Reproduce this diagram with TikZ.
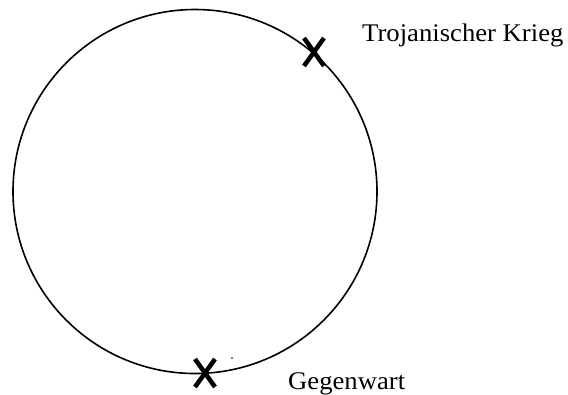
\documentclass[tikz,border=0pt]{standalone}
\usepackage{fontspec}
\setmainfont[FakeStretch=1.05]{Liberation Serif}
\usetikzlibrary{calc}
\tikzset{
  ring/.style={line width=1.6bp},
  crossmark/.style={line width=4.5bp},
  lbl/.style={anchor=base west, inner sep=0pt, font=\fontsize{25.5}{28}\selectfont}
}
\begin{document}
\begin{tikzpicture}[x=1bp,y=-1bp]
\useasboundingbox (0,0) rectangle (568,394);
\coordinate (c) at (195,191.5);
\draw[ring] (c) circle[radius=182bp];
\coordinate (troy) at (314,52);
\coordinate (now) at (205,373);
\draw[crossmark] ($(troy)+(-10,-14)$) -- ($(troy)+(10,14)$);
\draw[crossmark] ($(troy)+(10,-14)$) -- ($(troy)+(-10,14)$);
\draw[crossmark] ($(now)+(-10,-14)$) -- ($(now)+(10,14)$);
\draw[crossmark] ($(now)+(10,-14)$) -- ($(now)+(-10,14)$);
\fill (232,358) circle[radius=0.8bp];
\node[lbl] (tk) at (362,41) {Trojanischer Krieg};
\node[lbl] (gw) at (288,389) {Gegenwart};
\end{tikzpicture}
\end{document}
